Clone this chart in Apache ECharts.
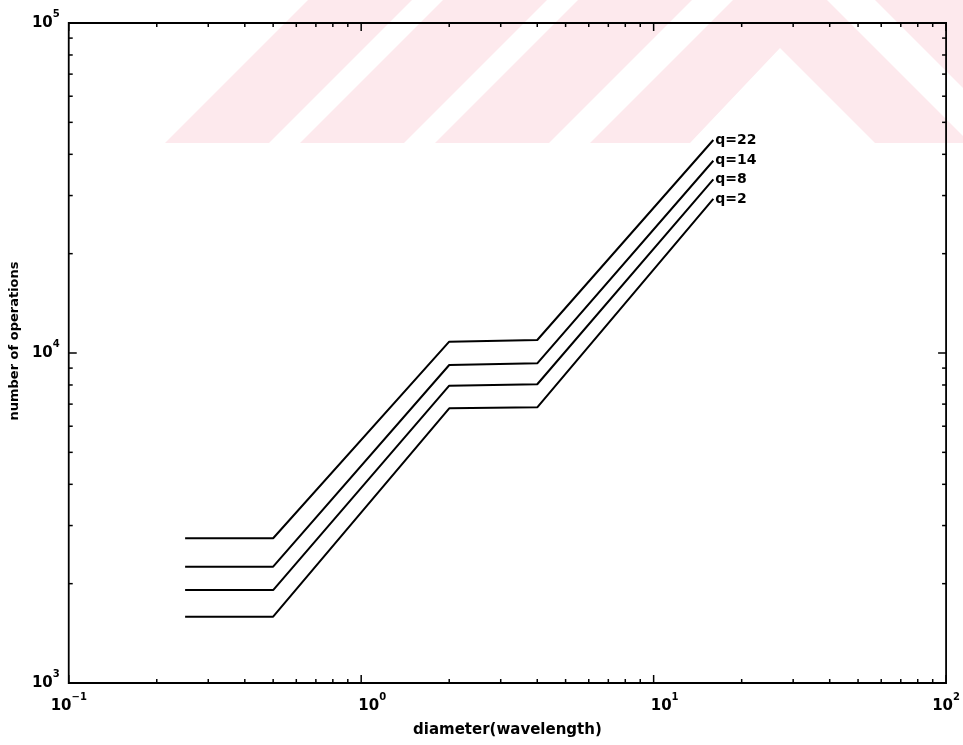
<!DOCTYPE html>
<html><head><meta charset="utf-8">
<script src="https://cdn.jsdelivr.net/npm/echarts@6/dist/echarts.min.js"></script>
<style>html,body{margin:0;padding:0;background:#fff}#c{width:963px;height:745px}</style>
</head><body><div id="c"></div>
<script>
// ---- data ----
const diameters = [0.25, 0.5, 2, 4, 16];
const seriesNames = ['q=22', 'q=14', 'q=8', 'q=2'];
const q22 = [2745, 2745, 10820, 10950, 44200];
const q14 = [2251, 2251, 9196, 9307, 38250];
const q8  = [1913, 1913, 7960, 8040, 33600];
const q2  = [1588, 1588, 6800, 6846, 29300];
const xMajorTicks = [0.1, 1, 10, 100];
const yMajorTicks = [1000, 10000, 100000];
const xMinorTicks = [0.2,0.3,0.4,0.5,0.6,0.7,0.8,0.9, 2,3,4,5,6,7,8,9, 20,30,40,50,60,70,80,90];
const yMinorTicks = [2000,3000,4000,5000,6000,7000,8000,9000, 20000,30000,40000,50000,60000,70000,80000,90000];
const xTitle = 'diameter(wavelength)';
const yTitle = 'number of operations';

const FONT = 'DejaVu Sans';
const chart = echarts.init(document.getElementById('c'), null, {renderer: 'canvas'});

function expText(v) {
  const e = Math.round(Math.log10(v));
  return e < 0 ? '\u2212' + (-e) : String(e);
}
function yLabel(v) { return '{b|10}{s|' + expText(v) + '}'; }
function xLabel(v) {
  const e = Math.round(Math.log10(v));
  const inner = e > -1 && e < 2;
  return (inner ? '{bm|10}' : '{b|10}') + '{s|' + expText(v) + '}';
}
const rich = {
  b: {fontSize: 15, fontWeight: 'bold', fontFamily: FONT, color: '#000', lineHeight: 28},
  bm: {fontSize: 15, fontWeight: 'bold', fontFamily: FONT, color: '#000', lineHeight: 28, padding: [0, 0, 0, 22]},
  s: {fontSize: 10, fontWeight: 'bold', fontFamily: FONT, color: '#000', verticalAlign: 'top'}
};

const lineData = [q22, q14, q8, q2];
const lineSeries = lineData.map((arr, i) => ({
  name: seriesNames[i],
  type: 'line',
  data: diameters.map((d, j) => [d, arr[j]]),
  symbol: 'none',
  lineStyle: {color: '#000', width: 2},
  itemStyle: {color: '#000'},
  z: 5,
  endLabel: {
    show: true, formatter: seriesNames[i], distance: 2,
    fontFamily: FONT, fontWeight: 'bold', fontSize: 14, color: '#000'
  },
  animation: false
}));

const xTickData = xMajorTicks.map(v => [v, 1000, 8]).concat(xMinorTicks.map(v => [v, 1000, 4]));
const yTickData = yMajorTicks.map(v => [0.1, v, 8]).concat(yMinorTicks.map(v => [0.1, v, 4]));

function tickStyle() { return {stroke: '#000', lineWidth: 1.5}; }

const xTickSeries = {
  type: 'custom', data: xTickData, clip: false, silent: true, z: 6, animation: false,
  renderItem: function (params, api) {
    const x = api.coord([api.value(0), api.value(1)])[0];
    const cs = params.coordSys; const len = api.value(2);
    const b = cs.y + cs.height, t = cs.y;
    return {type: 'group', children: [
      {type: 'line', shape: {x1: x, y1: b, x2: x, y2: b - len}, style: tickStyle()},
      {type: 'line', shape: {x1: x, y1: t, x2: x, y2: t + len}, style: tickStyle()}
    ]};
  }
};
const yTickSeries = {
  type: 'custom', data: yTickData, clip: false, silent: true, z: 6, animation: false,
  renderItem: function (params, api) {
    const y = api.coord([api.value(0), api.value(1)])[1];
    const cs = params.coordSys; const len = api.value(2);
    const l = cs.x, r = cs.x + cs.width;
    return {type: 'group', children: [
      {type: 'line', shape: {x1: l, y1: y, x2: l + len, y2: y}, style: tickStyle()},
      {type: 'line', shape: {x1: r, y1: y, x2: r - len, y2: y}, style: tickStyle()}
    ]};
  }
};

// faint pink background watermark (decoration)
const wmFill = '#fde9ed';
const watermark = [
  [[165,143],[269,143],[412,0],[308,0]],
  [[300,143],[404,143],[547,0],[443,0]],
  [[435,143],[549,143],[692,0],[578,0]],
  [[590,143],[733,0],[827,0],[970,143],[875,143],[780,48],[690,143]],
  [[875,0],[980,0],[1123,143],[1018,143]]
].map(p => ({type: 'polygon', shape: {points: p}, style: {fill: wmFill}, silent: true, z: -10}));

chart.setOption({
  animation: false,
  backgroundColor: '#fff',
  graphic: {elements: watermark},
  grid: {left: 67, top: 23, right: 16, bottom: 62, show: true, borderColor: '#000', borderWidth: 1.8, backgroundColor: 'transparent', z: 4},
  xAxis: {
    type: 'log', logBase: 10, min: 0.1, max: 100,
    name: xTitle, nameLocation: 'middle', nameGap: 40,
    nameTextStyle: {fontFamily: FONT, fontWeight: 'bold', fontSize: 15, color: '#000'},
    axisLine: {show: false}, axisTick: {show: false}, splitLine: {show: false}, minorTick: {show: false},
    axisLabel: {formatter: xLabel, rich: rich, margin: 9, showMinLabel: true, showMaxLabel: true}
  },
  yAxis: {
    type: 'log', logBase: 10, min: 1000, max: 100000,
    name: yTitle, nameLocation: 'middle', nameGap: 37,
    nameTextStyle: {fontFamily: FONT, fontWeight: 'bold', fontSize: 13, color: '#000', padding: [0, 0, 0, 24]},
    axisLine: {show: false}, axisTick: {show: false}, splitLine: {show: false}, minorTick: {show: false},
    axisLabel: {formatter: yLabel, rich: rich, margin: 9, showMinLabel: true, showMaxLabel: true}
  },
  series: lineSeries.concat([xTickSeries, yTickSeries])
});
</script>
</body></html>
